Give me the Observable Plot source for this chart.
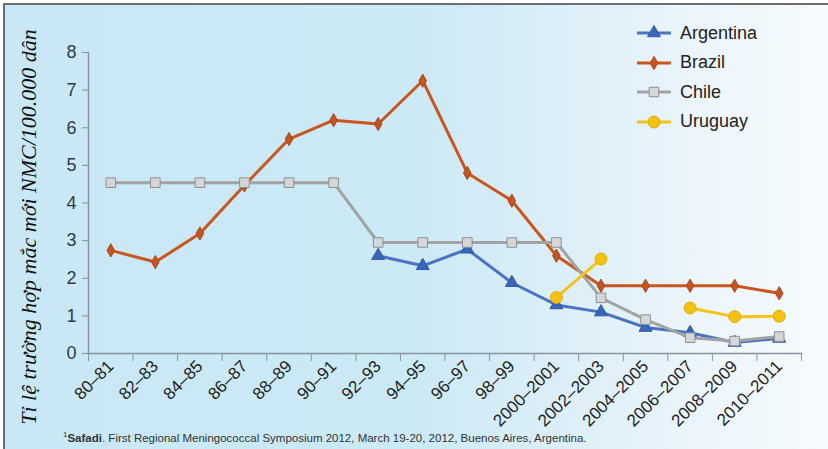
<!DOCTYPE html>
<html>
<head>
<meta charset="utf-8">
<script src="https://cdn.jsdelivr.net/npm/d3@7"></script>
<script src="https://cdn.jsdelivr.net/npm/@observablehq/plot@0.6"></script>
<style>
  html, body { margin: 0; padding: 0; background: #fff; }
  #wrap { position: relative; width: 828px; height: 449px; overflow: hidden; background: #fff; font-family: "Liberation Sans", Arial, sans-serif; }
  #bg { position: absolute; left: 3px; top: 3px; right: 0; bottom: 0; border-left: 2px solid #6e6e6e; border-top: 2px solid #6e6e6e;
        background: linear-gradient(to right, #c9e7f5 0%, #cce9f6 50%, #e0f0f9 72%, #eff7fc 88%, #f5fbfe 100%); }
  #chart { position: absolute; left: 0; top: 0; }
  #ytitle { position: absolute; left: -193px; top: 214px; width: 444px; height: 26px; line-height: 26px; text-align: center;
            transform: rotate(-90deg); font-family: "Liberation Serif", "Times New Roman", serif; font-style: italic; font-size: 22px; color: #111; white-space: nowrap; }
  #legend { position: absolute; left: 636px; top: 21px; }
  .lrow { position: absolute; left: 0; height: 24px; display: flex; align-items: center; white-space: nowrap; }
  .lrow span { font-size: 18px; color: #222; margin-left: 8px; }
  #foot { position: absolute; left: 63px; top: 430px; font-size: 11.5px; color: #333; white-space: nowrap; }
</style>
</head>
<body>
<div id="wrap">
  <div id="bg"></div>
  <div id="chart"></div>
  <div id="ytitle">Tỉ lệ trường hợp mắc mới NMC/100.000 dân</div>
  <div id="legend"></div>
  <div id="foot"><sup style="font-size:8px">1</sup><b>Safadi</b>. First Regional Meningococcal Symposium 2012, March 19-20, 2012, Buenos Aires, Argentina.</div>
</div>
<script>
const categories = ["80–81","82–83","84–85","86–87","88–89","90–91","92–93","94–95","96–97","98–99",
  "2000–2001","2002–2003","2004–2005","2006–2007","2008–2009","2010–2011"];
const argentina = [null, null, null, null, null, null, 2.6, 2.33, 2.77, 1.88, 1.29, 1.1, 0.69, 0.55, 0.29, 0.4];
const brazil    = [2.74, 2.43, 3.19, 4.47, 5.7, 6.2, 6.1, 7.25, 4.8, 4.06, 2.6, 1.8, 1.8, 1.8, 1.8, 1.6];
const chile     = [4.54, 4.54, 4.54, 4.54, 4.54, 4.54, 2.95, 2.95, 2.95, 2.95, 2.95, 1.48, 0.9, 0.42, 0.33, 0.45];
const uruguay   = [null, null, null, null, null, null, null, null, null, null, 1.49, 2.51, null, 1.21, 0.98, 0.99];
const yTicks = [0, 1, 2, 3, 4, 5, 6, 7, 8];

const series = [
  {name: "Argentina", values: argentina, line: "#4a74c2", fill: "#3a66b8", stroke: "#2f58a6", symbol: "triangle", r: 4.8},
  {name: "Brazil",    values: brazil,    line: "#c9561f", fill: "#c45420", stroke: "#a8461a", symbol: "diamond", r: 4},
  {name: "Chile",     values: chile,     line: "#a3a3a3", fill: "#d4d6d8", stroke: "#8e9092", symbol: "square", r: 5.4},
  {name: "Uruguay",   values: uruguay,   line: "#f6c31c", fill: "#f5c20f", stroke: "#e3a90a", symbol: "circle", r: 6}
];

const idx = categories.map((c, i) => i);
const bounds = [...idx.map(i => i - 0.5), categories.length - 0.5];

const marks = [
  Plot.frame({anchor: "left", stroke: "#8794a0", strokeWidth: 1.5}),
  Plot.frame({anchor: "bottom", stroke: "#8794a0", strokeWidth: 1.5}),
  Plot.axisY({ticks: yTicks, tickSize: 6, tickPadding: 6, fontSize: 18, stroke: "#8794a0", color: "#2d3a46", label: null}),
  Plot.axisX({ticks: bounds, tickSize: 8, tickFormat: () => "", stroke: "#8794a0", label: null}),
  Plot.axisX({ticks: idx, tickSize: 0, tickPadding: 10, tickRotate: -45, fontSize: 17, color: "#222", tickFormat: i => categories[i], label: null})
];
for (const s of series) {
  const data = s.values.map((v, i) => ({i, v}));
  marks.push(Plot.line(data, {x: "i", y: "v", stroke: s.line, strokeWidth: 3, defined: d => d.v != null, curve: "linear"}));
  marks.push(Plot.dot(data.filter(d => d.v != null), {x: "i", y: "v", symbol: s.symbol, r: s.r, fill: s.fill, stroke: s.stroke, strokeWidth: 1}));
}

const chart = Plot.plot({
  width: 828, height: 449,
  marginLeft: 88, marginRight: 27, marginTop: 52, marginBottom: 96,
  style: {background: "transparent", fontFamily: "'Liberation Sans', Arial, sans-serif", overflow: "visible"},
  x: {type: "linear", domain: [-0.5, categories.length - 0.5]},
  y: {domain: [0, 8]},
  marks
});
document.getElementById("chart").appendChild(chart);

// legend
const legend = document.getElementById("legend");
const rowY = [0, 29.5, 59, 88.5];
series.forEach((s, k) => {
  const row = document.createElement("div");
  row.className = "lrow";
  row.style.top = rowY[k] + "px";
  const ns = "http://www.w3.org/2000/svg";
  const svg = document.createElementNS(ns, "svg");
  svg.setAttribute("width", 36); svg.setAttribute("height", 24);
  const ln = document.createElementNS(ns, "line");
  ln.setAttribute("x1", 1); ln.setAttribute("x2", 35); ln.setAttribute("y1", 12); ln.setAttribute("y2", 12);
  ln.setAttribute("stroke", s.line); ln.setAttribute("stroke-width", 3);
  svg.appendChild(ln);
  const sym = {triangle: d3.symbolTriangle, diamond: d3.symbolDiamond, square: d3.symbolSquare, circle: d3.symbolCircle}[s.symbol];
  const p = document.createElementNS(ns, "path");
  p.setAttribute("d", d3.symbol(sym, Math.PI * s.r * s.r)());
  p.setAttribute("transform", "translate(18,12)");
  p.setAttribute("fill", s.fill); p.setAttribute("stroke", s.stroke);
  svg.appendChild(p);
  row.appendChild(svg);
  const t = document.createElement("span");
  t.textContent = s.name;
  row.appendChild(t);
  legend.appendChild(row);
});
</script>
</body>
</html>
